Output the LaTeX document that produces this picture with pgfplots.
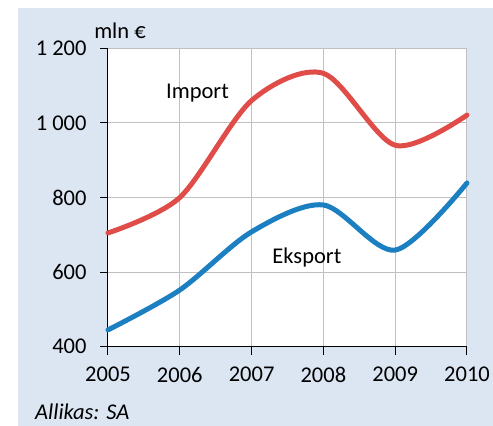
\documentclass[border=0pt]{standalone}
\usepackage{pgfplots}
\pgfplotsset{compat=1.18}
\usepackage{fontspec}
\setmainfont{Carlito}
\definecolor{bgblue}{RGB}{220,230,242}
\definecolor{impred}{RGB}{224,76,72}
\definecolor{expblue}{RGB}{28,127,194}
\definecolor{gridgray}{RGB}{192,192,192}
\begin{document}
\begin{tikzpicture}[x=1pt,y=1pt]
\fill[bgblue] (-90,-79.3) rectangle (385,338.7);
\useasboundingbox (-108,-79.3) rectangle (385,346.7);
\begin{axis}[
  at={(0,0)}, anchor=south west,
  scale only axis, width=359pt, height=298.4pt,
  xmin=2005, xmax=2010, ymin=400, ymax=1200,
  clip=false,
  axis background/.style={fill=white},
  axis x line*=bottom, axis y line*=left,
  axis line style={black, line width=1pt},
  xtick={2005,2006,2007,2008,2009,2010},
  xticklabels={2005,2006,2007,2008,2009,2010},
  ytick={400,600,800,1000,1200},
  yticklabels={400,600,800,1\ 000,1\ 200},
  tick align=outside, major tick length=8pt,
  tick style={black, line width=1pt},
  grid=major, major grid style={gridgray, line width=1pt},
  tick label style={font=\fontsize{22.5}{26}\selectfont},
  yticklabel style={xshift=-10pt},
  xticklabel style={yshift=-9pt},
]
\addplot[impred, line width=5pt, smooth, line cap=round] coordinates {
(2005,705) (2006,800) (2007,1060) (2008,1133) (2009,940) (2010,1021)};
\addplot[expblue, line width=5pt, smooth, line cap=round] coordinates {
(2005,445) (2006,552) (2007,708) (2008,780) (2009,659) (2010,839)};
\node[anchor=base, font=\fontsize{22.5}{26}\selectfont] at (axis cs:2006.247,1066.7) {Import};
\node[anchor=base, font=\fontsize{22.5}{26}\selectfont] at (axis cs:2007.77,624.4) {Eksport};
\node[anchor=base, font=\fontsize{22.5}{26}\selectfont] at (axis cs:2005.167,1227.6) {mln €};
\node[anchor=base west, inner sep=0pt, font=\fontsize{22.5}{26}\selectfont\itshape] at (axis cs:2003.983,203.5) {Allikas: SA};
\end{axis}
\end{tikzpicture}
\end{document}
